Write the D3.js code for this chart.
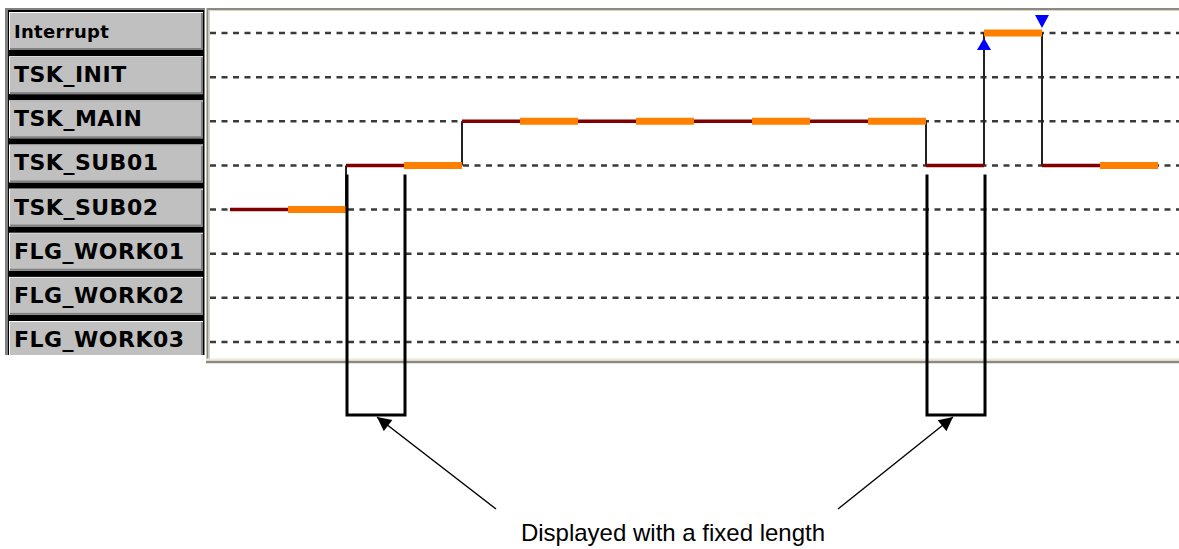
<!DOCTYPE html>
<html lang="en">
<head>
  <meta charset="UTF-8">
  <title>Task trace</title>
  <style>
    body{ margin: 0; background: #fff; }
    .grid{ stroke: #3a3a3a; stroke-width: 2.5px; stroke-dasharray: 6 5.5; }
    .wait{ stroke: #800000; stroke-width: 3.5px; }
    .run{ stroke: #ff8000; stroke-width: 7px; }
    .switch{ stroke: #222; stroke-width: 2px; }
    .bracket{ fill: none; stroke: #000; stroke-width: 3px; }
    .label{ font-family: "DejaVu Sans", sans-serif; font-weight: bold; fill: #000; }
    .note{ font-family: "Liberation Sans", Arial, sans-serif; font-size: 24px; fill: #000; }
  </style>
</head>
<body>
  <script src="https://cdn.jsdelivr.net/npm/d3@7"></script>
  <script>
    const rows = ['Interrupt', 'TSK_INIT', 'TSK_MAIN', 'TSK_SUB01', 'TSK_SUB02', 'FLG_WORK01', 'FLG_WORK02', 'FLG_WORK03'];
    // [task, start, end] in time ticks
    const waitSpans = [['TSK_SUB02', 0, 1], ['TSK_SUB01', 2, 3], ['TSK_MAIN', 4, 5], ['TSK_MAIN', 6, 7],
      ['TSK_MAIN', 8, 9], ['TSK_MAIN', 10, 11], ['TSK_SUB01', 12, 13], ['TSK_SUB01', 14, 15]];
    const runSpans = [['TSK_SUB02', 1, 2], ['TSK_SUB01', 3, 4], ['TSK_MAIN', 5, 6], ['TSK_MAIN', 7, 8],
      ['TSK_MAIN', 9, 10], ['TSK_MAIN', 11, 12], ['Interrupt', 13, 14], ['TSK_SUB01', 15, 16]];
    // [time, from, to]
    const switches = [[2, 'TSK_SUB02', 'TSK_SUB01'], [4, 'TSK_SUB01', 'TSK_MAIN'], [12, 'TSK_MAIN', 'TSK_SUB01'],
      [13, 'TSK_SUB01', 'Interrupt'], [14, 'Interrupt', 'TSK_SUB01']];
    const intEnter = [13];
    const intExit = [14];
    const fixedSpans = [[2, 3], [12, 13]];
    const note = 'Displayed with a fixed length';

    const width = 1179, height = 549;
    const x = d3.scaleLinear().domain([0, 16]).range([230, 1158]);
    const y = d3.scalePoint().domain(rows).range([33, 342]);

    const svg = d3.select('body').append('svg')
      .attr('width', width).attr('height', height);

    // label panel
    const panel = svg.append('g');
    svg.append('clipPath').attr('id', 'pclip')
      .append('rect').attr('x', 0).attr('y', 0).attr('width', 206).attr('height', 355);
    panel.attr('clip-path', 'url(#pclip)');
    panel.append('rect').attr('x', 5).attr('y', 8).attr('width', 200).attr('height', 350).attr('fill', '#808080');
    panel.append('rect').attr('x', 8).attr('y', 10).attr('width', 196).attr('height', 350).attr('fill', '#000');
    const btn = panel.selectAll('g.btn').data(rows).enter().append('g').attr('class', 'btn');
    btn.append('rect').attr('x', 9).attr('y', d => y(d) - 21).attr('width', 194).attr('height', 38).attr('fill', '#fff');
    btn.append('rect').attr('x', 10).attr('y', d => y(d) - 20).attr('width', 193).attr('height', 37).attr('fill', '#808080');
    btn.append('rect').attr('x', 10).attr('y', d => y(d) - 20).attr('width', 191).attr('height', 35).attr('fill', '#c0c0c0');
    btn.append('text').attr('class', 'label')
      .attr('x', 14).attr('y', d => y(d) + 5)
      .style('font-size', d => d === 'Interrupt' ? '18px' : '22px')
      .style('letter-spacing', d => d === 'Interrupt' ? '0.3px' : '0.5px')
      .text(d => d);

    // plot frame
    svg.append('line').attr('x1', 207).attr('x2', width).attr('y1', 9).attr('y2', 9).attr('stroke', '#8c8a80').attr('stroke-width', 2);
    svg.append('line').attr('x1', 209).attr('x2', width).attr('y1', 10.5).attr('y2', 10.5).attr('stroke', '#d8d4c8').attr('stroke-width', 1);
    svg.append('line').attr('x1', 207.5).attr('x2', 207.5).attr('y1', 8).attr('y2', 359).attr('stroke', '#8c8a80').attr('stroke-width', 2);
    svg.append('line').attr('x1', 209.5).attr('x2', 209.5).attr('y1', 10).attr('y2', 359).attr('stroke', '#d8d4c8').attr('stroke-width', 1);
    svg.append('line').attr('x1', 206).attr('x2', width).attr('y1', 359.5).attr('y2', 359.5).attr('stroke', '#ece9d8').attr('stroke-width', 2);
    svg.append('line').attr('x1', 206).attr('x2', width).attr('y1', 362).attr('y2', 362).attr('stroke', '#8c8a80').attr('stroke-width', 2.5);

    // dashed row lines
    svg.selectAll('line.grid').data(rows).enter().append('line')
      .attr('class', 'grid')
      .attr('x1', 210).attr('x2', width)
      .attr('y1', d => y(d)).attr('y2', d => y(d));

    svg.selectAll('line.switch').data(switches).enter().append('line')
      .attr('class', 'switch')
      .attr('x1', d => x(d[0])).attr('x2', d => x(d[0]))
      .attr('y1', d => y(d[1])).attr('y2', d => y(d[2]));

    svg.selectAll('line.wait').data(waitSpans).enter().append('line')
      .attr('class', 'wait')
      .attr('x1', d => x(d[1])).attr('x2', d => x(d[2]))
      .attr('y1', d => y(d[0])).attr('y2', d => y(d[0]));

    svg.selectAll('line.run').data(runSpans).enter().append('line')
      .attr('class', 'run')
      .attr('x1', d => x(d[1])).attr('x2', d => x(d[2]))
      .attr('y1', d => y(d[0])).attr('y2', d => y(d[0]));

    // interrupt markers
    const iy = y('Interrupt');
    svg.selectAll('path.enter').data(intEnter).enter().append('path')
      .attr('fill', '#0000ff')
      .attr('d', d => `M${x(d)},${iy + 5}L${x(d) + 7},${iy + 17}L${x(d) - 7},${iy + 17}Z`);
    svg.selectAll('path.exit').data(intExit).enter().append('path')
      .attr('fill', '#0000ff')
      .attr('d', d => `M${x(d) - 7},${iy - 18}L${x(d) + 7},${iy - 18}L${x(d)},${iy - 5}Z`);

    // fixed length annotations
    const by0 = y('TSK_SUB01') + 9, by1 = 415;
    svg.selectAll('path.bracket').data(fixedSpans).enter().append('path')
      .attr('class', 'bracket')
      .attr('d', d => `M${x(d[0]) + 1},${by0}V${by1}H${x(d[1]) + 1}V${by0}`);

    svg.append('defs').append('marker')
      .attr('id', 'head').attr('viewBox', '0 0 10 10')
      .attr('refX', 10).attr('refY', 5)
      .attr('markerWidth', 15).attr('markerHeight', 14)
      .attr('markerUnits', 'userSpaceOnUse')
      .attr('orient', 'auto')
      .append('path').attr('d', 'M0,0L10,5L0,10Z').attr('fill', '#000');

    const tail = [[496, 509], [838, 509]];
    svg.selectAll('line.arrow').data(fixedSpans).enter().append('line')
      .attr('stroke', '#000').attr('stroke-width', 1.5)
      .attr('x1', (d, i) => tail[i][0]).attr('y1', (d, i) => tail[i][1])
      .attr('x2', (d, i) => x((d[0] + d[1]) / 2) + (i === 0 ? 2 : -2)).attr('y2', 417)
      .attr('marker-end', 'url(#head)');

    svg.append('text').attr('class', 'note')
      .attr('x', 673).attr('y', 541)
      .attr('text-anchor', 'middle')
      .text(note);
  </script>
</body>
</html>
